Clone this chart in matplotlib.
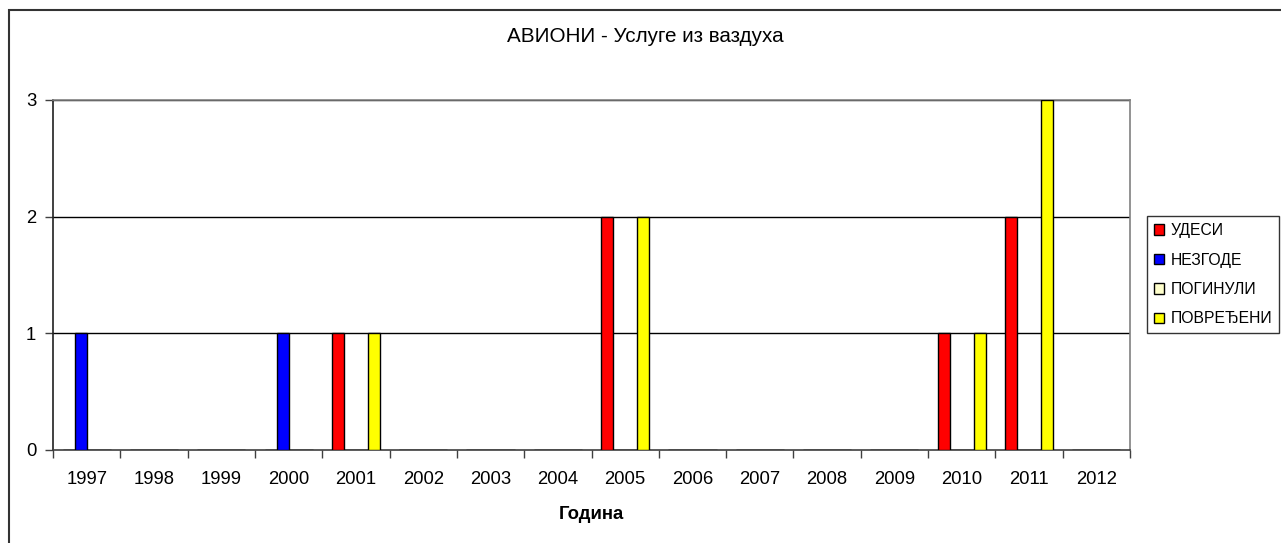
import matplotlib
matplotlib.use("Agg")
import matplotlib.pyplot as plt
import numpy as np
from matplotlib.patches import Rectangle

years = ['1997', '1998', '1999', '2000', '2001', '2002', '2003', '2004',
         '2005', '2006', '2007', '2008', '2009', '2010', '2011', '2012']
udesi = [0, 0, 0, 0, 1, 0, 0, 0, 2, 0, 0, 0, 0, 1, 2, 0]
nezgode = [1, 0, 0, 1, 0, 0, 0, 0, 0, 0, 0, 0, 0, 0, 0, 0]
poginuli = [0, 0, 0, 0, 0, 0, 0, 0, 0, 0, 0, 0, 0, 0, 0, 0]
povredjeni = [0, 0, 0, 0, 1, 0, 0, 0, 2, 0, 0, 0, 0, 1, 3, 0]

series = [('УДЕСИ', udesi, '#FF0000'),
          ('НЕЗГОДЕ', nezgode, '#0000FF'),
          ('ПОГИНУЛИ', poginuli, '#FFFFCC'),
          ('ПОВРЕЂЕНИ', povredjeni, '#FFFF00')]

plt.rcParams['font.family'] = ['Liberation Sans', 'DejaVu Sans']

W, H = 1281, 543
fig = plt.figure(figsize=(W / 100, H / 100), dpi=100)
ax = fig.add_axes([53 / W, 1 - 450 / H, 1077 / W, 350 / H])

x = np.arange(len(years))
w = 0.1786
for i, (name, vals, col) in enumerate(series):
    ax.bar(x + (i - 1.5) * w, vals, width=w, color=col, edgecolor='black',
           linewidth=1.0, label=name, zorder=3)

ax.set_xlim(-0.5, len(years) - 0.5)
ax.set_ylim(0, 3)
ax.set_yticks([0, 1, 2, 3])
ax.set_xticks(np.arange(-0.5, len(years)), minor=False)
ax.set_xticklabels([])
ax.set_xticks(x, minor=True)
ax.set_xticklabels(years, minor=True)
ax.tick_params(axis='x', which='major', length=6, width=1, color='#404040', direction='out')
ax.tick_params(axis='x', which='minor', length=0, pad=15, labelsize=13.3)
ax.tick_params(axis='y', length=6, width=1, color='#404040', direction='out', labelsize=13.3, pad=6)

for v in [1, 2, 3]:
    ax.axhline(v, color='black', linewidth=1, zorder=1)

ax.spines['left'].set_color('#202020')
ax.spines['bottom'].set_color('#404040')
ax.spines['top'].set_color('#808080')
ax.spines['right'].set_color('#808080')
for s in ax.spines.values():
    s.set_linewidth(1.2)

ax.set_xlabel('Година', fontsize=13.3, fontweight='bold', labelpad=13)
fig.text(645 / W, 1 - 37 / H, 'АВИОНИ - Услуге из ваздуха', ha='center', va='center', fontsize=14.9)

leg = ax.legend(loc='upper left', bbox_to_anchor=(1147 / W, 1 - 216 / H), bbox_transform=fig.transFigure,
                frameon=True, fancybox=False, shadow=False, fontsize=11.3, handlelength=0.65, handleheight=0.65,
                handletextpad=0.4, labelspacing=0.92, borderpad=0.45, borderaxespad=0)
leg.get_frame().set_edgecolor('black')
leg.get_frame().set_linewidth(1.0)

fig.add_artist(Rectangle((8.5 / W, -0.1), 1.2, (H - 10) / H + 0.1, transform=fig.transFigure,
                         fill=False, edgecolor='#333333', linewidth=1.5))

fig.savefig('out.png', dpi=100)
